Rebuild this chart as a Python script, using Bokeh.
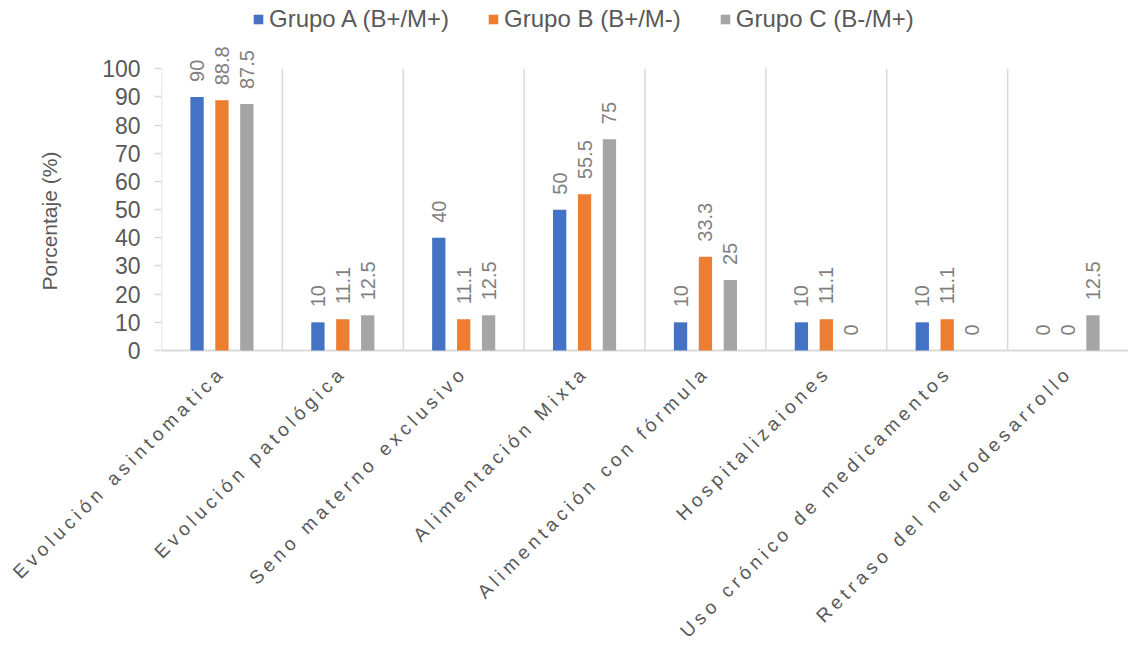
import math
from bokeh.plotting import figure
from bokeh.models import (ColumnDataSource, FactorRange, Range1d, FixedTicker,
                          Legend, LegendItem, Title, InlineStyleSheet)
from bokeh.transform import dodge
from bokeh.core.properties import value
from bokeh.embed import file_html
from bokeh.resources import INLINE

# --- data -----------------------------------------------------------------
categories = [
    "Evolución asintomatica",
    "Evolución patológica",
    "Seno materno exclusivo",
    "Alimentación Mixta",
    "Alimentación con fórmula",
    "Hospitalizaiones",
    "Uso crónico de medicamentos",
    "Retraso del neurodesarrollo",
]
series_names = ["Grupo A (B+/M+)", "Grupo B (B+/M-)", "Grupo C (B-/M+)"]
grupo_a = [90, 10, 40, 50, 10, 10, 10, 0]
grupo_b = [88.8, 11.1, 11.1, 55.5, 33.3, 11.1, 11.1, 0]
grupo_c = [87.5, 12.5, 12.5, 75, 25, 0, 0, 12.5]
y_ticks = [0, 10, 20, 30, 40, 50, 60, 70, 80, 90, 100]
y_title = "Porcentaje (%)"

# --- styling --------------------------------------------------------------
colors = ["#4472C4", "#ED7D31", "#A5A5A5"]
offsets = [-0.206, 0.0, 0.206]
FONT = "Liberation Sans"
AXIS_GREY = "#D9D9D9"
TEXT_GREY = "#595959"
LABEL_GREY = "#7F7F7F"

W = 1128
LEFT = 160          # left edge of the plotting area
TOP_H = 365         # chart panel height
BOTTOM_H = 645 - TOP_H
PX_PER_UNIT = 2.817 # vertical scale of the value axis
Y0_PX = 350         # pixel row of the zero line
CAT_PX = (W - LEFT) / len(categories)
SPACING = 4.4       # letter spacing of the category labels, px

# ---------------------------------------------------------------- chart ----
p = figure(
    width=W, height=TOP_H,
    x_range=FactorRange(*categories, range_padding=0),
    y_range=Range1d(-(TOP_H - Y0_PX) / PX_PER_UNIT, Y0_PX / PX_PER_UNIT),
    output_backend="svg", toolbar_location=None, x_axis_location=None,
    min_border_left=LEFT, min_border_right=0,
    min_border_top=0, min_border_bottom=0,
)
p.outline_line_color = None
p.xgrid.grid_line_color = None
p.ygrid.grid_line_color = None

n = len(categories)
# category separators (the first one doubles as the value-axis line)
p.segment(x0=list(range(n)), y0=0, x1=list(range(n)), y1=100,
          line_color=AXIS_GREY, line_width=1.5)
# category axis baseline
p.segment(x0=[0], y0=[0], x1=[n], y1=[0], line_color=AXIS_GREY, line_width=2)

renderers = []
for vals, name, col, off in zip([grupo_a, grupo_b, grupo_c], series_names, colors, offsets):
    src = ColumnDataSource(dict(cat=categories, val=vals,
                                lbl=[f"{v:g}" for v in vals]))
    r = p.vbar(x=dodge("cat", off, range=p.x_range), top="val", width=0.11,
               source=src, fill_color=col, line_color=None)
    renderers.append((name, r))
    p.text(x=dodge("cat", off, range=p.x_range), y="val", text="lbl", source=src,
           angle=math.pi / 2, text_align="left", text_baseline="middle",
           y_offset=-15, text_font=value(FONT), text_font_size="20px",
           text_color=LABEL_GREY)

yax = p.yaxis[0]
yax.ticker = FixedTicker(ticks=y_ticks)
yax.axis_line_color = None
yax.major_tick_line_color = AXIS_GREY
yax.major_tick_line_width = 1.5
yax.major_tick_out = 7
yax.major_tick_in = 0
yax.minor_tick_line_color = None
yax.major_label_text_font = FONT
yax.major_label_text_font_size = "23px"
yax.major_label_text_color = TEXT_GREY
yax.major_label_standoff = 14

# value-axis title
p.add_layout(Title(text=y_title, align="left", offset=TOP_H - 290, standoff=74,
                   vertical_align="top", text_font=FONT,
                   text_font_size="21px", text_font_style="normal",
                   text_color=TEXT_GREY), "left")

legend = Legend(
    items=[LegendItem(label=nm, renderers=[r]) for nm, r in renderers],
    orientation="horizontal", location=(91, TOP_H - 33),
    glyph_width=12, glyph_height=12, label_standoff=5, spacing=38,
    label_text_font=FONT, label_text_font_size="24px",
    label_text_color=TEXT_GREY, border_line_color=None,
    background_fill_alpha=0, padding=0, margin=0,
)
p.add_layout(legend)

# ------------------------------------------------------- category labels ----
# letter-spaced labels; each label is pulled back along its 45° direction by
# the extra width the spacing adds, so that it still ends under its category
spaced = InlineStyleSheet(css=f":host {{ letter-spacing: {SPACING}px; }}")
q = figure(
    width=W, height=BOTTOM_H,
    x_range=Range1d(-LEFT / CAT_PX, n), y_range=Range1d(-BOTTOM_H, 0),
    output_backend="svg", toolbar_location=None,
    x_axis_location=None, y_axis_location=None,
    min_border_left=0, min_border_right=0, min_border_top=0, min_border_bottom=0,
    stylesheets=[spaced],
)
q.outline_line_color = None
q.xgrid.grid_line_color = None
q.ygrid.grid_line_color = None
diag = math.cos(math.pi / 4)
extra = [SPACING * (len(c) - 1) * diag for c in categories]
lab_src = ColumnDataSource(dict(x=[i + 0.5 for i in range(n)], cat=categories,
                                xo=[-e - 2 for e in extra], yo=extra))
q.text(x="x", y=-(Y0_PX + 22 - TOP_H), text="cat", source=lab_src,
       x_offset="xo", y_offset="yo",
       angle=math.pi / 4, text_align="right", text_baseline="middle",
       text_font=value(FONT), text_font_size="19px", text_color=TEXT_GREY)

# two independent roots stacked on the page
open("out.html", "w").write(file_html([p, q], INLINE))
